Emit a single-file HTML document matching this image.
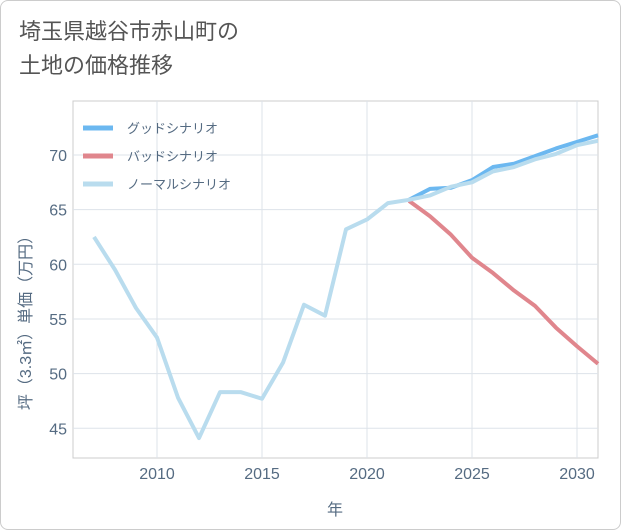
<!DOCTYPE html>
<html><head><meta charset="utf-8"><style>
body{margin:0;background:#fff;font-family:"Liberation Sans","Noto Sans CJK JP",sans-serif;}
#wrap{position:relative;width:619px;height:528px;border:1px solid #ccc;border-radius:8px;overflow:hidden;}
#title{position:absolute;left:18px;top:14px;font-size:22px;line-height:34px;color:#555;}
</style></head><body>
<div id="wrap">
<div id="title">埼玉県越谷市赤山町の<br>土地の価格推移</div>
<svg id="chart" width="621" height="530" style="position:absolute;left:0;top:0"></svg>
</div>
<script>
const years=[2007,2008,2009,2010,2011,2012,2013,2014,2015,2016,2017,2018,2019,2020,2021,2022,2023,2024,2025,2026,2027,2028,2029,2030,2031];
const normalVals=[62.5,59.5,56,53.3,47.8,44.1,48.3,48.3,47.7,51,56.3,55.3,63.2,64.1,65.6,65.9,66.3,67.1,67.5,68.5,68.9,69.6,70.1,70.9,71.3];
const futureYears=[2022,2023,2024,2025,2026,2027,2028,2029,2030,2031];
const goodVals=[65.9,66.9,67.0,67.7,68.9,69.2,69.9,70.6,71.2,71.8];
const badVals=[65.8,64.4,62.7,60.6,59.2,57.6,56.2,54.2,52.5,50.9];
const xTicks=[2010,2015,2020,2025,2030];
const yTicks=[45,50,55,60,65,70];
const NS="http://www.w3.org/2000/svg";
const svg=document.getElementById('chart');
const L=72,R=597,T=100,B=457;
const x=v=>156+(v-2010)*21;
const y=v=>154+(70-v)*10.93;
function mk(t,a){const e=document.createElementNS(NS,t);for(const k in a)e.setAttribute(k,a[k]);svg.appendChild(e);return e;}
const bg=mk('rect',{x:L,y:T,width:R-L,height:B-T,fill:'#fff',stroke:'#ccc'});


xTicks.forEach(v=>{
 const g=mk('line',{x1:x(v),x2:x(v),y1:T,y2:B,stroke:'#dde3ea'});
 
 
 const t=mk('text',{x:x(v),y:478,'text-anchor':'middle','font-size':16,fill:'#556b82'});
 t.textContent=v;
 
 
});
yTicks.forEach(v=>{
 const g=mk('line',{x1:L,x2:R,y1:y(v),y2:y(v),stroke:'#dde3ea'});
 
 
 const t=mk('text',{x:66,y:y(v)+6,'text-anchor':'end','font-size':16,fill:'#556b82'});
 t.textContent=v;
 
 
});
function line(xs,vs,color,name){
 const p=mk('polyline',{points:xs.map((yr,i)=>x(yr)+','+y(vs[i])).join(' '),fill:'none',stroke:color,'stroke-width':4,'stroke-linejoin':'round'});
 
 
}
svg.appendChild(Object.assign(document.createElementNS(NS,'clipPath'),{id:'c'}));
line(futureYears,badVals,'#e0868d','bad-scenario-line');
line(futureYears,goodVals,'#6cb8f0','good-scenario-line');
line(years,normalVals,'#b9dcee','normal-scenario-line');
const leg=[['グッドシナリオ','#6cb8f0'],['バッドシナリオ','#e0868d'],['ノーマルシナリオ','#b9dcee']];
leg.forEach((d,i)=>{
 const ly=127+i*28;
 const l=mk('line',{x1:82,x2:112,y1:ly,y2:ly,stroke:d[1],'stroke-width':5});
 
 
 const t=mk('text',{x:126,y:ly+5,'font-size':13,fill:'#556b82'});
 t.textContent=d[0];
 
 
});
const xt=mk('text',{x:334,y:514,'text-anchor':'middle','font-size':16,fill:'#556b82'});
xt.textContent='年';


const yt=mk('text',{x:0,y:0,'text-anchor':'middle','font-size':16,fill:'#556b82',transform:'translate(30,318) rotate(-90)'});
yt.textContent='坪（3.3㎡）単価（万円）';


</script>
</body></html>
